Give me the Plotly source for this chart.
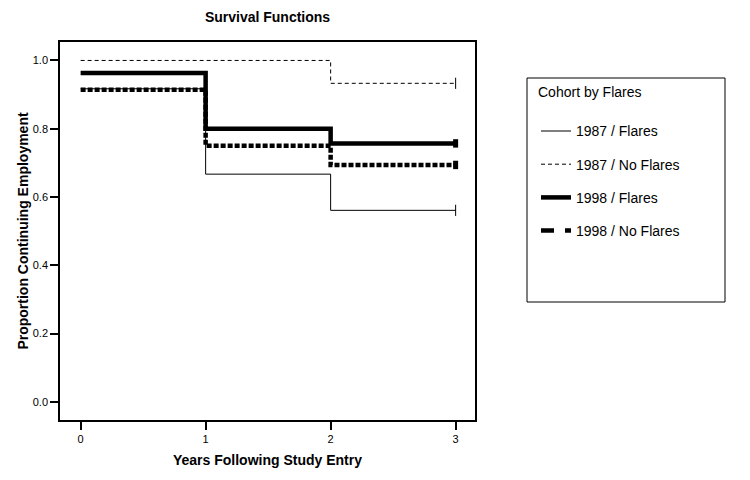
import plotly.graph_objects as go

# survival estimates
years = [0, 1, 2, 3]
cohorts = ["1987 / Flares", "1987 / No Flares", "1998 / Flares", "1998 / No Flares"]
surv_1987_flares = [0.917, 0.667, 0.561, 0.561]
surv_1987_noflares = [1.0, 1.0, 0.933, 0.933]
surv_1998_flares = [0.963, 0.800, 0.757, 0.757]
surv_1998_noflares = [0.914, 0.750, 0.694, 0.694]

series = [surv_1987_flares, surv_1987_noflares, surv_1998_flares, surv_1998_noflares]
widths = [1, 1, 4.5, 4.5]
dashes = ["solid", "4px,3px", "solid", "5px,2px"]
legend_dashes = ["solid", "4px,3px", "solid", "13px,11px"]

fig = go.Figure()

for i, (name, s) in enumerate(zip(cohorts, series)):
    # the step curve
    fig.add_trace(go.Scatter(
        x=years, y=s, mode="lines", line_shape="hv",
        line=dict(color="black", width=widths[i], dash=dashes[i]),
        showlegend=False, hoverinfo="skip"))
    # censoring tick at the end
    fig.add_trace(go.Scatter(
        x=[years[-1]], y=[s[-1]], mode="markers",
        marker=dict(symbol="line-ns", size=8 if widths[i] < 2 else 6,
                    line=dict(color="black", width=1 if widths[i] < 2 else 5)),
        showlegend=False, hoverinfo="skip"))
    # legend entry
    fig.add_trace(go.Scatter(
        x=[None], y=[None], mode="lines", name=name, legendgroup=name,
        line=dict(color="black", width=widths[i], dash=legend_dashes[i])))

# page body adds an 8px offset, so the figure is laid out 8px up/left
fig.update_layout(
    width=750, height=480,
    margin=dict(l=52, r=283, t=34, b=68, autoexpand=False),
    paper_bgcolor="white", plot_bgcolor="white",
    font=dict(family="Liberation Sans, Arial, sans-serif", color="black", size=11),
    title=dict(text="<b>Survival Functions</b>", x=(52 + 415 / 2) / 750, xanchor="center",
               y=1 - 9 / 480, yanchor="middle", font=dict(size=14)),
    xaxis=dict(range=[-0.165, 3.155], tickvals=years, ticks="outside", ticklen=8,
               tickwidth=1.5, tickcolor="black", showline=True, linecolor="black",
               linewidth=1.5, mirror=True, showgrid=False, zeroline=False,
               automargin=True,
               title=dict(text="<b>Years Following Study Entry</b>", font=dict(size=14),
                          standoff=11)),
    yaxis=dict(range=[-0.053, 1.054], tickvals=[0, 0.2, 0.4, 0.6, 0.8, 1.0],
               tickformat=".1f", ticks="outside", ticklen=8, tickwidth=1.5,
               tickcolor="black", showline=True, linecolor="black", linewidth=1.5,
               mirror=True, showgrid=False, zeroline=False, automargin=True,
               title=dict(text="<b>Proportion Continuing Employment</b>",
                          font=dict(size=14), standoff=1)),
    legend=dict(x=(536 - 60) / 415, y=(420 - 79) / 378, xanchor="left", yanchor="top",
                bgcolor="rgba(0,0,0,0)", borderwidth=0, font=dict(size=14),
                title=dict(text="Cohort by Flares<br> ", font=dict(size=14)),
                tracegroupgap=12),
)

# legend frame
fig.add_shape(type="rect", xref="paper", yref="paper",
              x0=(527 - 60) / 415, x1=(725 - 60) / 415,
              y0=(420 - 302) / 378, y1=(420 - 78) / 378,
              line=dict(color="black", width=1))

fig.write_html("out.html")
